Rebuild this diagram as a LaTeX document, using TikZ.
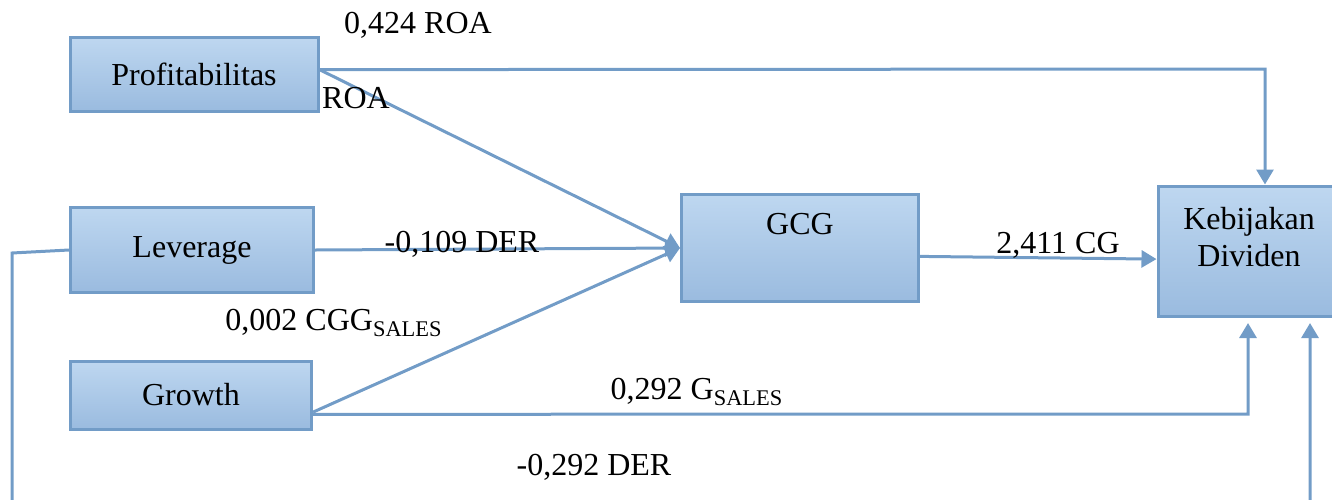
\documentclass[tikz,border=0pt]{standalone}
\usepackage{fontspec}
\setmainfont{Liberation Serif}
\usetikzlibrary{arrows.meta}
\definecolor{linecol}{RGB}{114,156,199}
\definecolor{boxtop}{RGB}{190,215,240}
\definecolor{boxbot}{RGB}{154,187,223}
\begin{document}
\begin{tikzpicture}
[x=0.5pt, y=-0.5pt,
 every node/.style={inner sep=0pt, font=\fontsize{16}{18.5}\selectfont},
 var/.style={rectangle, draw=linecol, line width=1.5pt, top color=boxtop, bottom color=boxbot},
 link/.style={line width=1.5pt, color=linecol},
 >={Triangle[length=7.5pt, width=8.5pt]}]
\clip (0, 0) rectangle (1332, 499);
\node (prof) [var, minimum width=124pt, minimum height=37pt] at (194, 74) {Profitabilitas};
\node (lev) [var, minimum width=121.5pt, minimum height=42.5pt] at (192, 250) {Leverage};
\node (grow) [var, minimum width=120.5pt, minimum height=34pt] at (191, 395) {Growth};
\node (gcg) [var, minimum width=118.5pt, minimum height=53.5pt] at (800, 248) {};
\node (kd) [var, minimum width=91pt, minimum height=65pt] at (1249, 251) {};
\node (gcgtext) [below=10pt] at (gcg.north) {GCG};
\node (kdtext) [align=center] at (1249, 237) {Kebijakan\\Dividen};
\coordinate (p1) at (1265, 69);
\coordinate (g1) at (1248, 414);
\coordinate (g2) at (1248, 323);
\coordinate (l1) at (12, 253);
\coordinate (l2) at (12, 530);
\coordinate (l3) at (1310, 530);
\coordinate (l4) at (1310, 323);
\draw [link, ->] (prof.2) to (p1) to (p1 |- kd.north);
\draw [link, ->] (prof.2) to (gcg.west);
\draw [link, ->] (lev.east) to (gcg.west);
\draw [link, ->] (grow.-8) to (gcg.west);
\draw [link, ->] (grow.-9) to (g1) to (g2);
\draw [link, ->] (lev.west) to (l1) to (l2) to (l3) to (l4);
\draw [link, ->] (gcg.-4) to (kd.185);
\node (w1) at (418, 25) {0,424 ROA};
\node (w2) at (356, 98) {ROA};
\node (w3) at (462, 244) {-0,109 DER};
\node (w4) at (334, 323) {0,002 CGG\textsubscript{SALES}};
\node (w5) at (697, 392) {0,292 G\textsubscript{SALES}};
\node (w6) at (594, 467) {-0,292 DER};
\node (w7) at (1058, 245) {2,411 CG};
\end{tikzpicture}
\end{document}
